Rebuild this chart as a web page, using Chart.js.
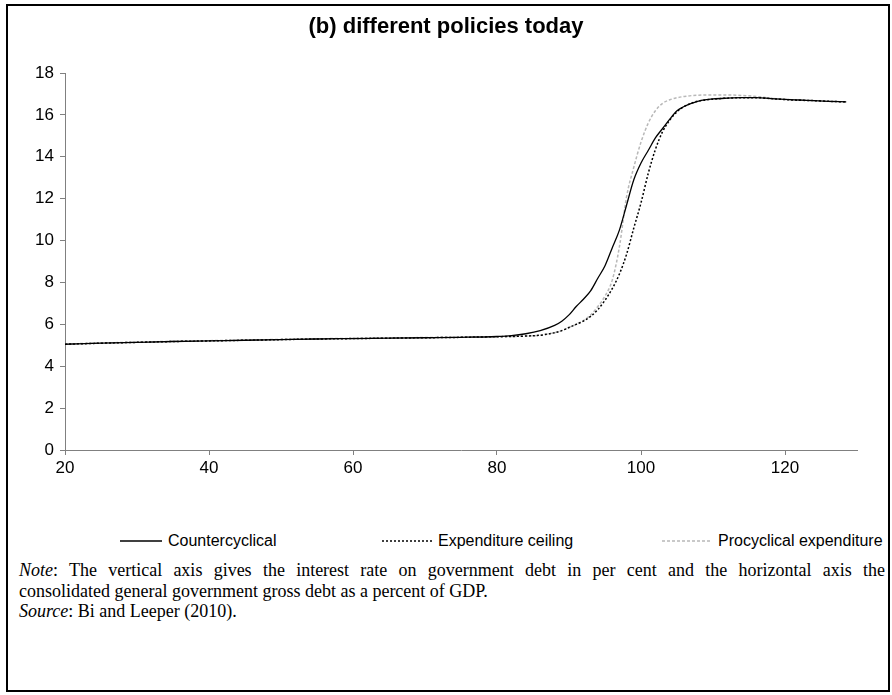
<!DOCTYPE html>
<html>
<head>
<meta charset="utf-8">
<script src="https://cdn.jsdelivr.net/npm/chart.js@4.4.1/dist/chart.umd.min.js"></script>
<style>
  body { margin: 0; background: #fff; }
  #frame { position: absolute; left: 6px; top: 4px; width: 880px; height: 684px; border: 2px solid #000; }
  #wrap { position: absolute; left: 0; top: 0; width: 892px; height: 490px; }
  .item { position: absolute; top: 530px; height: 22px; font: 16px Arial, "Liberation Sans", sans-serif; color: #000; white-space: nowrap; }
  .item svg { position: absolute; left: 0; top: 0; }
  .item span { position: absolute; top: 2px; }
  #note { position: absolute; left: 19px; top: 560px; width: 866px; font: 18px "Liberation Serif", "Times New Roman", serif; line-height: 20.5px; color: #000; }
  #note .full { display: block; text-align: justify; text-align-last: justify; }
</style>
</head>
<body>
<div id="frame"></div>
<div id="wrap"><canvas id="mychart" width="892" height="490"></canvas></div>

<div class="item" style="left:120px"><svg width="42" height="22"><line x1="0" y1="11" x2="42" y2="11" stroke="#000" stroke-width="1.3"/></svg><span style="left:48px">Countercyclical</span></div>
<div class="item" style="left:382px"><svg width="50" height="22"><line x1="0" y1="11" x2="50" y2="11" stroke="#000" stroke-width="1.5" stroke-dasharray="2,2"/></svg><span style="left:56px">Expenditure ceiling</span></div>
<div class="item" style="left:662px"><svg width="50" height="22"><line x1="0" y1="11" x2="50" y2="11" stroke="#b8b8b8" stroke-width="1.5" stroke-dasharray="3,2"/></svg><span style="left:56px">Procyclical expenditure</span></div>

<div id="note">
  <span class="full"><i>Note</i>: The vertical axis gives the interest rate on government debt in per cent and the horizontal axis the</span>
  consolidated general government gross debt as a percent of GDP.<br>
  <i>Source</i>: Bi and Leeper (2010).
</div>

<script>
const debt = [20, 25, 30, 35, 40, 45, 50, 55, 60, 65, 70, 75, 80, 82, 84, 86, 88, 89, 90, 91, 92, 93, 94, 95,
  96, 97, 98, 99, 100, 101, 102, 103, 104, 105, 106, 107, 108, 110, 112, 114, 116, 118, 120, 122, 124, 126, 128.5];

// interest rate on government debt, per cent
const countercyclical = [5.05, 5.1, 5.14, 5.18, 5.21, 5.24, 5.27, 5.3, 5.32, 5.34, 5.36, 5.38, 5.42, 5.46, 5.55, 5.7, 5.95, 6.15, 6.45, 6.85, 7.2, 7.6, 8.2, 8.8,
  9.65, 10.5, 11.7, 12.9, 13.7, 14.3, 14.9, 15.35, 15.8, 16.2, 16.4, 16.55, 16.66, 16.76, 16.8, 16.82, 16.82, 16.78, 16.74, 16.71, 16.68, 16.65, 16.62];
const expenditureCeiling = [5.05, 5.1, 5.14, 5.18, 5.21, 5.24, 5.27, 5.3, 5.32, 5.34, 5.36, 5.38, 5.41, 5.42, 5.44, 5.48, 5.6, 5.7, 5.85, 6.0, 6.15, 6.38, 6.7, 7.15,
  7.7, 8.4, 9.35, 10.6, 11.8, 13.2, 14.35, 15.2, 15.75, 16.15, 16.4, 16.56, 16.66, 16.75, 16.8, 16.82, 16.82, 16.78, 16.73, 16.7, 16.68, 16.65, 16.62];
const procyclical = [5.06, 5.11, 5.15, 5.19, 5.22, 5.25, 5.28, 5.31, 5.33, 5.35, 5.37, 5.39, 5.4, 5.42, 5.44, 5.48, 5.6, 5.7, 5.85, 6.0, 6.18, 6.45, 6.85, 7.35,
  8.1, 9.7, 12.1, 13.5, 14.7, 15.6, 16.2, 16.55, 16.72, 16.82, 16.88, 16.92, 16.94, 16.95, 16.95, 16.93, 16.88, 16.8, 16.74, 16.71, 16.68, 16.65, 16.62];

const xTicks = [20, 40, 60, 80, 100, 120];

const toPoints = ys => debt.map((d, i) => ({ x: d, y: ys[i] }));

const axisFont = { family: 'Arial, "Liberation Sans", sans-serif', size: 17 };

const ctx = document.getElementById('mychart').getContext('2d');
const myChart = new Chart(ctx, {
    type: 'line',
    data: {
        datasets: [
            { label: 'Countercyclical', data: toPoints(countercyclical), borderColor: '#000', borderWidth: 1.3 },
            { label: 'Expenditure ceiling', data: toPoints(expenditureCeiling), borderColor: '#000', borderWidth: 1.5, borderDash: [2, 2] },
            { label: 'Procyclical expenditure', data: toPoints(procyclical), borderColor: '#b8b8b8', borderWidth: 1.5, borderDash: [3, 2] }
        ]
    },
    options: {
        responsive: false,
        animation: false,
        // equal side padding keeps the title centred on the page
        layout: { padding: { top: 0, right: 35, bottom: 0, left: 35 } },
        elements: {
            point: { radius: 0 },
            line: { cubicInterpolationMode: 'monotone', fill: false }
        },
        plugins: {
            legend: { display: false },
            tooltip: { enabled: false },
            title: {
                display: true,
                text: '(b) different policies today',
                color: '#000',
                font: { family: 'Arial, "Liberation Sans", sans-serif', size: 22, weight: 'bold' },
                padding: { top: 14, bottom: 32.6 }
            }
        },
        scales: {
            x: {
                type: 'linear',
                min: 20,
                max: 130,
                afterBuildTicks: axis => { axis.ticks = xTicks.map(v => ({ value: v })); },
                afterFit: axis => { axis.height = 40; },
                ticks: { color: '#000', font: axisFont, padding: 3, maxRotation: 0 },
                grid: { drawOnChartArea: false, drawTicks: true, tickLength: 5, color: '#808080' },
                border: { color: '#808080', width: 1 }
            },
            y: {
                min: 0,
                max: 18,
                ticks: { stepSize: 2, color: '#000', font: axisFont, padding: 6 },
                afterFit: axis => { axis.width = 30; },
                grid: { drawOnChartArea: false, drawTicks: true, tickLength: 5, color: '#808080' },
                border: { color: '#808080', width: 1 }
            }
        }
    }
});
</script>
</body>
</html>
